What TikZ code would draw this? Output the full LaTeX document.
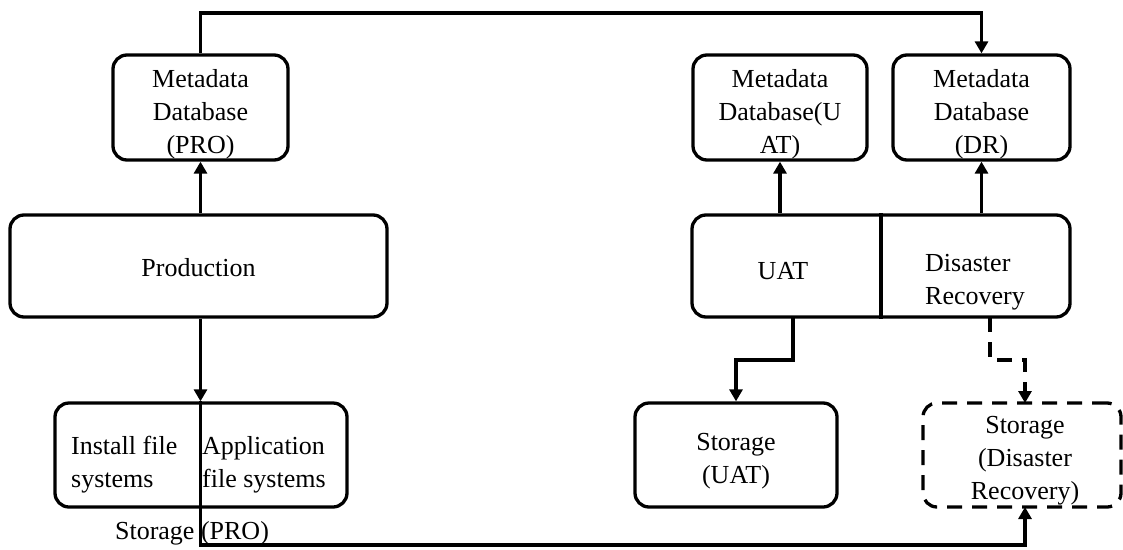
\documentclass[tikz,border=0pt]{standalone}
\usepackage{fontspec}
\setmainfont{Liberation Serif}
\usetikzlibrary{arrows.meta,calc}
\begin{document}
\begin{tikzpicture}[x=1pt,y=-1pt,
  every node/.style={font={\fontsize{26}{33}\selectfont}},
  box/.style={draw,line width=3.3pt,rounded corners=14pt,inner sep=0pt,align=center},
  dbox/.style={box,dash pattern=on 15pt off 10pt},
  lbl/.style={inner sep=0pt,align=center},
  lbll/.style={inner sep=0pt,align=left,anchor=west},
  conn/.style={line width=3.3pt},
  arr/.style={conn,-{Triangle[length=12pt,width=13pt]}},
  darr/.style={arr,dash pattern=on 15pt off 10pt}]
\useasboundingbox (0,0) rectangle (1123,549);
% boxes
\node[box,minimum width=175pt,minimum height=105pt] (mpro) at (200.5,107.5) {};
\node[box,minimum width=174pt,minimum height=105pt] (muat) at (780,107.5) {};
\node[box,minimum width=177pt,minimum height=105pt] (mdr) at (981.5,107.5) {};
\node[box,minimum width=377pt,minimum height=102pt] (prod) at (198.5,266) {};
\node[box,minimum width=378pt,minimum height=102pt] (uatdr) at (881,266) {};
\node[box,minimum width=292pt,minimum height=104pt] (spro) at (201,455) {};
\node[box,minimum width=202pt,minimum height=104pt] (suat) at (736,455) {};
\node[dbox,minimum width=198pt,minimum height=104pt] (sdr) at (1022,455) {};
% labels
\node[lbl] (lmpro) at (200.5,114) {Metadata\\Database\\(PRO)};
\node[lbl] (lmuat) at (780,114) {Metadata\\Database(U\\AT)};
\node[lbl] (lmdr) at (981.5,114) {Metadata\\Database\\(DR)};
\node[lbl] (lprod) at (198.5,268) {Production};
\node[lbl] (luat) at (783,271) {UAT};
\node[lbll] (ldr) at (925,282) {Disaster\\Recovery};
\node[lbll] (linst) at (71,465) {Install file\\systems};
\node[lbll] (lapp) at (202,465) {Application\\file systems};
\node[lbl] (lsuat) at (736,461) {Storage\\(UAT)};
\node[lbl] (lsdr) at (1025,461) {Storage\\(Disaster\\Recovery)};
\node[lbl] (lspro) at (192,533) {Storage (PRO)};
% dividers
\draw[conn] (uatdr.north) -- (uatdr.south);
% bend coordinates
\coordinate (top) at (0,13);
\coordinate (bot) at (0,545);
\coordinate (uatout) at (793,317);
\coordinate (drout) at (990,317);
\coordinate (mid) at (0,360);
\coordinate (sdrin) at (1025,403);
\coordinate (sdrbot) at (1025,507);
% connectors
\draw[arr] (mpro.north) -- (mpro.north |- top) -| (mdr.north);
\draw[arr] (mpro.south |- prod.north) -- (mpro.south);
\draw[arr] (muat.south |- uatdr.north) -- (muat.south);
\draw[arr] (mdr.south |- uatdr.north) -- (mdr.south);
\draw[arr] (mpro.south |- prod.south) -- (mpro.south |- spro.north);
\draw[arr] (mpro.south |- spro.north) -- (mpro.south |- bot) -| (sdrbot);
\draw[arr] (uatout) -- (uatout |- mid) -| (suat.north);
\draw[darr] (drout) -- (drout |- mid) -| (sdrin);
\end{tikzpicture}
\end{document}
